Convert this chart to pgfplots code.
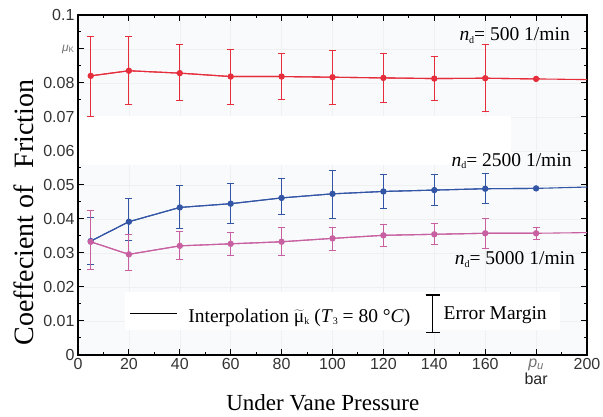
\documentclass[border=0pt]{standalone}
\usepackage{fontspec}
\setmainfont{Liberation Serif}
\setsansfont{Liberation Sans}
\usepackage{pgfplots}
\pgfplotsset{compat=1.18}
\usetikzlibrary{calc}

\definecolor{cred}{RGB}{230,45,60}
\definecolor{cblue}{RGB}{50,85,165}
\definecolor{cpink}{RGB}{200,95,160}
\definecolor{bgtint}{RGB}{248,250,252}

\newcommand{\sub}[1]{\raisebox{-0.25ex}{\fontsize{10}{10}\selectfont #1}}

% x, mean, error plus, error minus
\pgfplotstableread{
x   y      ep     em
5   0.0821 0.0117 0.0120
20  0.0836 0.0102 0.0099
40  0.0829 0.0083 0.0081
60  0.0819 0.0080 0.0081
80  0.0819 0.0068 0.0067
100 0.0817 0.0080 0.0081
120 0.0815 0.0073 0.0073
140 0.0813 0.0064 0.0064
160 0.0814 0.0099 0.0099
180 0.0812 0      0
200 0.0810 0      0
}\datared
\pgfplotstableread{
x   y      ep     em
5   0.0335 0.0070 0.0070
20  0.0392 0.0069 0.0054
40  0.0434 0.0066 0.0062
60  0.0445 0.0059 0.0058
80  0.0462 0.0058 0.0050
100 0.0474 0.0070 0.0072
120 0.0481 0.0049 0.0050
140 0.0485 0.0045 0.0044
160 0.0489 0.0044 0.0043
180 0.0490 0      0
200 0.0494 0      0
}\datablue
\pgfplotstableread{
x   y      ep     em
5   0.0333 0.0093 0.0081
20  0.0296 0.0059 0.0046
40  0.0321 0.0041 0.0040
60  0.0327 0.0034 0.0033
80  0.0333 0.0043 0.0039
100 0.0343 0.0033 0.0036
120 0.0352 0.0033 0.0033
140 0.0355 0.0032 0.0029
160 0.0358 0.0044 0.0044
180 0.0358 0.0018 0.0018
200 0.0360 0      0
}\datapink

\pgfplotsset{
  series/.style={color=#1, line width=1.1pt, mark=*, mark size=2.6pt,
    mark options={fill=#1, draw=#1},
    error bars/.cd, y dir=both, y explicit,
    error bar style={color=#1, line width=0.9pt},
    error mark options={rotate=90, mark size=3.5pt, color=#1, line width=0.9pt}},
  interp/.style={color=#1, line width=1.1pt, mark=none},
}

\begin{document}
\begin{tikzpicture}
\begin{axis}[
  name=a,
  set layers,
  scale only axis,
  width=509pt, height=340pt,
  xmin=0, xmax=200, ymin=0, ymax=0.1,
  xtick={0,20,40,60,80,100,120,140,160,180,200},
  xticklabels={0,20,40,60,80,100,120,140,160,{\color{black!55}\textit{p}\textsubscript{\textit{u}}\\[-1pt]\color{black!85}bar},200},
  ytick={0,0.01,0.02,0.03,0.04,0.05,0.06,0.07,0.08,0.09,0.1},
  yticklabels={0,0.01,0.02,0.03,0.04,0.05,0.06,0.07,0.08,{\fontsize{12}{12}\selectfont\color{black!55}\textit{μ}\textsubscript{K}},0.1},
  minor x tick num=1, minor y tick num=1,
  major tick length=6pt, minor tick length=3pt,
  tick style={black, line width=1pt},
  axis line style={black, line width=1.3pt},
  grid=major,
  major grid style={black!6, line width=0.6pt},
  axis background/.style={fill=bgtint},
  /pgf/number format/assume math mode=true,
  tick label style={font=\sffamily\fontsize{16}{18}\selectfont, text=black!80},
  xticklabel style={align=center},
  xlabel={Under Vane Pressure},
  xlabel style={font=\fontsize{23}{26}\selectfont, at={(axis description cs:0.481,-0.162)}, anchor=base},
  ylabel={Coeffecient of\hspace{0.35em} Friction},
  ylabel style={font=\fontsize{28}{31}\selectfont, at={(axis description cs:-0.088,0.419)}, anchor=base},
]
% white patches behind the annotations
\fill[white, on layer=axis grid] (axis cs:0.3,0.0559) rectangle (axis cs:170,0.0703);
\fill[white, on layer=axis grid] (axis cs:18.5,0.0074) rectangle (axis cs:189.4,0.0185);

\addplot[interp=cred] table[x=x, y=y] {\datared};
\addplot[skip coords between index={10}{11}, series=cred]
  table[x=x, y=y, y error plus=ep, y error minus=em] {\datared};

\addplot[interp=cblue] table[x=x, y=y] {\datablue};
\addplot[skip coords between index={10}{11}, series=cblue]
  table[x=x, y=y, y error plus=ep, y error minus=em] {\datablue};

\addplot[interp=cpink] table[x=x, y=y] {\datapink};
\addplot[skip coords between index={10}{11}, series=cpink]
  table[x=x, y=y, y error plus=ep, y error minus=em] {\datapink};

% legend
\draw[black, line width=1pt] (axis cs:20.4,0.0121) -- (axis cs:38.8,0.0121);
\node[anchor=base west, font=\fontsize{19.5}{22}\selectfont, inner sep=0pt] at (axis cs:43.3,0.0096)
  {Interpolation $\widetilde{\mbox{μ}}$\sub{k} (\textit{T}\sub{3} = 80 °\textit{C})};
\addplot[black, mark=none, error bars/.cd, y dir=both, y explicit,
  error bar style={black, line width=1.2pt},
  error mark options={rotate=90, mark size=7pt, black, line width=1.2pt}]
  coordinates {(139.3,0.01216) +- (0,0.0055)};
\node[anchor=base west, font=\fontsize{19.5}{22}\selectfont, inner sep=0pt] at (axis cs:143.6,0.0105) {Error Margin};

% curve labels
\node[anchor=base east, font=\fontsize{19.5}{22}\selectfont, inner sep=0pt] at (axis cs:193.3,0.0924) {\textit{n}\sub{d}= 500 1/min};
\node[anchor=base east, font=\fontsize{19.5}{22}\selectfont, inner sep=0pt] at (axis cs:194,0.0554) {\textit{n}\sub{d}= 2500 1/min};
\node[anchor=base east, font=\fontsize{19.5}{22}\selectfont, inner sep=0pt] at (axis cs:195.3,0.0265) {\textit{n}\sub{d}= 5000 1/min};
\end{axis}
\pgfresetboundingbox
\path ($(a.south west)+(-78pt,-62pt)$) rectangle ($(a.north east)+(16pt,15pt)$);
\end{tikzpicture}
\end{document}
